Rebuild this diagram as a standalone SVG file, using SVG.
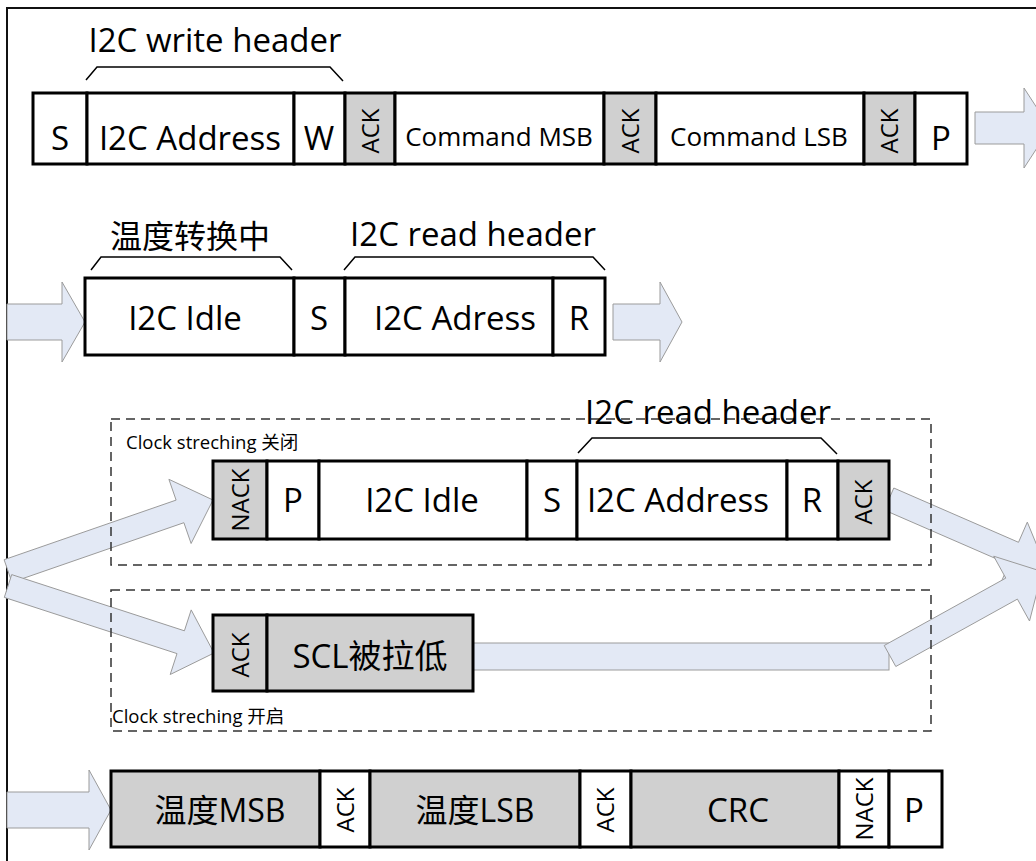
<svg xmlns="http://www.w3.org/2000/svg" width="1036" height="861" viewBox="0 0 1036 861">
<style>
.cell{stroke:#000;stroke-width:3}
.w{fill:#fff}
.g{fill:#d0d0d0}
.t{font-family:"Open Sans","Noto Sans CJK SC",sans-serif;fill:#000;text-anchor:middle}
.big{font-size:33px}
.cmd{font-size:26px}
.hdr{font-size:33px}
.v{font-size:24px}
.small{font-size:18.5px;text-anchor:start}
.arr{fill:#e3e9f5;stroke:#9b9b9b;stroke-width:1}
.dash{fill:none;stroke:#333;stroke-width:1.5;stroke-dasharray:9 6}
.brace{fill:none;stroke:#000;stroke-width:1.5}
</style>
<rect x="0" y="0" width="1036" height="861" fill="#fff"/>
<path d="M7,861 V8 H1036" fill="none" stroke="#111" stroke-width="2"/>

<g id="connectors">
<polygon class="arr" points="975,112 1024,112 1024,88 1050,128 1024,168 1024,144 975,144"/>
<polygon class="arr" points="7,304 62,304 62,282 85,322 62,362 62,340 7,340"/>
<polygon class="arr" points="613,304 660,304 660,282 682,322 660,362 660,340 613,340"/>
<polygon class="arr" points="4.1,559.7 176.1,500.1 168.9,479.3 213,500 191.1,543.5 183.9,522.7 11.9,582.3"/>
<polygon class="arr" points="11.7,574.6 184.4,630.8 191.2,609.9 214,653 170.2,674.5 177,653.6 4.3,597.4"/>
<polygon class="arr" points="893.8,488 1018.5,542.3 1027.3,522.1 1045.8,567.2 1000.1,584.5 1008.9,564.3 884.2,510"/>
<rect class="arr" x="473" y="643" width="416" height="27"/>
<polygon class="arr" points="884.2,645.5 1005.8,578.1 993.7,556.2 1042.3,571.6 1029.5,621 1017.4,599.1 895.8,666.5"/>
<polygon class="arr" points="7,792 89,792 89,770 111,810 89,850 89,828 7,828"/>
</g>

<g id="labels">
<text class="t hdr" x="215" y="52">I2C write header</text>
<path class="brace" d="M86,80 L97,67 L330,67 L343,81"/>
<text class="t" style="font-size:32px" x="190" y="248">温度转换中</text>
<path class="brace" d="M91,270 L101,257 L280,257 L292,270"/>
<text class="t hdr" x="473" y="246">I2C read header</text>
<path class="brace" d="M344,270 L355,257 L593,257 L605,270"/>
</g>

<g id="group-clock-off">
<rect class="dash" x="111" y="419" width="820" height="146"/>
<text class="t small" x="126" y="449">Clock streching 关闭</text>
<text class="t hdr" x="708" y="424">I2C read header</text>
<path class="brace" d="M578,453 L592,438 L821,438 L837,454"/>
</g>
<g id="group-clock-on">
<rect class="dash" x="111" y="590" width="820" height="141"/>
<text class="t small" x="112" y="723">Clock streching 开启</text>
</g>

<!-- Row 1 -->
<g id="r1-s"><rect class="cell w" x="33" y="93" width="54" height="71"/><text class="t big" x="60" y="150">S</text></g>
<g id="r1-addr"><rect class="cell w" x="87" y="93" width="207" height="71"/><text class="t big" x="190" y="150">I2C Address</text></g>
<g id="r1-w"><rect class="cell w" x="294" y="93" width="51" height="71"/><text class="t big" x="319" y="150">W</text></g>
<g id="r1-ack1"><rect class="cell g" x="345" y="93" width="50" height="71"/><text class="t v" transform="translate(370,131) rotate(-90)" dy="0.36em">ACK</text></g>
<g id="r1-cmsb"><rect class="cell w" x="395" y="93" width="209" height="71"/><text class="t cmd" x="499" y="146">Command MSB</text></g>
<g id="r1-ack2"><rect class="cell g" x="604" y="93" width="52" height="71"/><text class="t v" transform="translate(630,131) rotate(-90)" dy="0.36em">ACK</text></g>
<g id="r1-clsb"><rect class="cell w" x="656" y="93" width="208" height="71"/><text class="t cmd" x="759" y="146">Command LSB</text></g>
<g id="r1-ack3"><rect class="cell g" x="864" y="93" width="51" height="71"/><text class="t v" transform="translate(889.5,131) rotate(-90)" dy="0.36em">ACK</text></g>
<g id="r1-p"><rect class="cell w" x="915" y="93" width="52" height="71"/><text class="t big" x="941" y="150">P</text></g>

<!-- Row 2 -->
<g id="r2-idle"><rect class="cell w" x="85" y="278" width="209" height="77"/><text class="t big" x="185" y="330">I2C Idle</text></g>
<g id="r2-s"><rect class="cell w" x="294" y="278" width="51" height="77"/><text class="t big" x="319" y="330">S</text></g>
<g id="r2-addr"><rect class="cell w" x="345" y="278" width="208" height="77"/><text class="t big" x="455" y="330">I2C Adress</text></g>
<g id="r2-r"><rect class="cell w" x="553" y="278" width="52" height="77"/><text class="t big" x="579" y="330">R</text></g>

<!-- Row 3 -->
<g id="r3-nack"><rect class="cell g" x="213" y="461" width="54" height="78"/><text class="t v" transform="translate(240,500) rotate(-90)" dy="0.36em">NACK</text></g>
<g id="r3-p"><rect class="cell w" x="267" y="461" width="52" height="78"/><text class="t big" x="293" y="512">P</text></g>
<g id="r3-idle"><rect class="cell w" x="319" y="461" width="208" height="78"/><text class="t big" x="422" y="512">I2C Idle</text></g>
<g id="r3-s"><rect class="cell w" x="527" y="461" width="50" height="78"/><text class="t big" x="552" y="512">S</text></g>
<g id="r3-addr"><rect class="cell w" x="577" y="461" width="210" height="78"/><text class="t big" x="678" y="512">I2C Address</text></g>
<g id="r3-r"><rect class="cell w" x="787" y="461" width="51" height="78"/><text class="t big" x="812" y="512">R</text></g>
<g id="r3-ack"><rect class="cell g" x="838" y="461" width="51" height="78"/><text class="t v" transform="translate(863.5,502) rotate(-90)" dy="0.36em">ACK</text></g>

<!-- Row 4 -->
<g id="r4-ack"><rect class="cell g" x="213" y="615" width="54" height="76"/><text class="t v" transform="translate(240,655) rotate(-90)" dy="0.36em">ACK</text></g>
<g id="r4-scl"><rect class="cell g" x="267" y="615" width="206" height="76"/><text class="t big" x="370" y="668">SCL被拉低</text></g>

<!-- Row 5 -->
<g id="r5-msb"><rect class="cell g" x="111" y="771" width="209" height="76"/><text class="t" style="font-size:32px" x="220" y="822">温度MSB</text></g>
<g id="r5-ack1"><rect class="cell w" x="320" y="771" width="50" height="76"/><text class="t v" transform="translate(345,810) rotate(-90)" dy="0.36em">ACK</text></g>
<g id="r5-lsb"><rect class="cell g" x="370" y="771" width="210" height="76"/><text class="t" style="font-size:32px" x="475" y="822">温度LSB</text></g>
<g id="r5-ack2"><rect class="cell w" x="580" y="771" width="51" height="76"/><text class="t v" transform="translate(605.5,810) rotate(-90)" dy="0.36em">ACK</text></g>
<g id="r5-crc"><rect class="cell g" x="631" y="771" width="208" height="76"/><text class="t big" x="738" y="822">CRC</text></g>
<g id="r5-nack"><rect class="cell w" x="839" y="771" width="50" height="76"/><text class="t v" transform="translate(864,809) rotate(-90)" dy="0.36em">NACK</text></g>
<g id="r5-p"><rect class="cell w" x="889" y="771" width="53" height="76"/><text class="t big" x="914" y="822">P</text></g>
</svg>
